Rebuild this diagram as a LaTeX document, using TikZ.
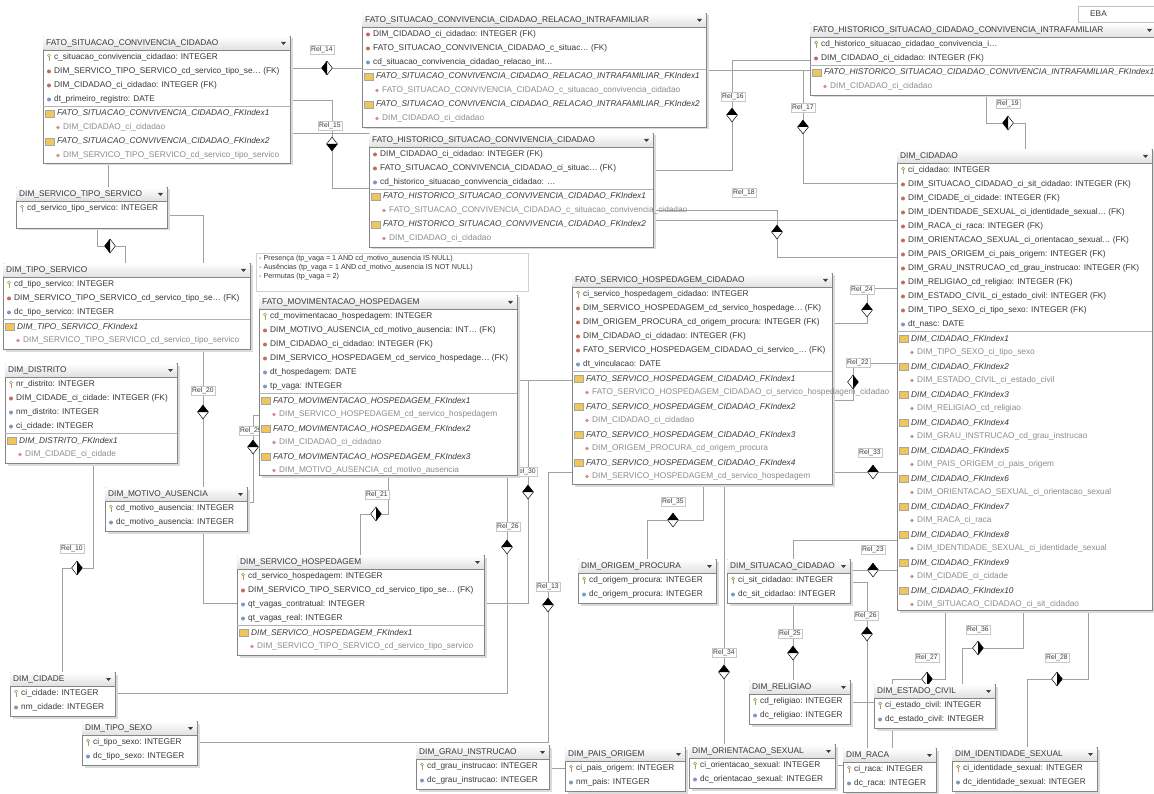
\documentclass[tikz,border=0pt]{standalone}
\usepackage{fontspec}
\setmainfont{Liberation Sans}
\usetikzlibrary{shapes.geometric,backgrounds}
\definecolor{lnc}{HTML}{A0A0A0}
\definecolor{bdr}{HTML}{858585}
\definecolor{txt}{HTML}{383838}
\definecolor{subt}{HTML}{8C8C8C}
\definecolor{fkc}{HTML}{C46A5E}
\definecolor{atc}{HTML}{7C98BC}
\definecolor{keyc}{HTML}{B09A68}
\definecolor{fold}{HTML}{EFC65C}
\newcounter{rowc}
\tikzset{
  tblbox/.style={rectangle, draw=bdr, fill=white, line width=0.6pt, inner sep=0pt, outer sep=0pt},
  hdrtext/.style={anchor=west, inner sep=0pt, font=\fontsize{8.3}{9}\selectfont, text=txt},
  rtk/.style={anchor=west, inner sep=0pt, font=\fontsize{8.3}{9}\selectfont, text=txt},
  rtf/.style={rtk},
  rta/.style={rtk},
  rti/.style={anchor=west, inner sep=0pt, font=\fontsize{8.3}{9}\selectfont\itshape, text=txt},
  rts/.style={anchor=west, inner sep=0pt, font=\fontsize{8.3}{9}\selectfont, text=subt},
  rd/.style={diamond, draw=black, fill=white, line width=0.5pt, minimum width=11pt, minimum height=14pt, inner sep=0pt},
  rdL/.style={rd, path picture={\fill[black] (path picture bounding box.north) -- (path picture bounding box.west) -- (path picture bounding box.south) -- cycle;}},
  rdR/.style={rd, path picture={\fill[black] (path picture bounding box.north) -- (path picture bounding box.east) -- (path picture bounding box.south) -- cycle;}},
  rdT/.style={rd, path picture={\fill[black] (path picture bounding box.west) -- (path picture bounding box.north) -- (path picture bounding box.east) -- cycle;}},
  rdB/.style={rd, path picture={\fill[black] (path picture bounding box.west) -- (path picture bounding box.south) -- (path picture bounding box.east) -- cycle;}},
  rl/.style={draw=black!22, fill=white, inner sep=1.4pt, font=\fontsize{6.8}{7}\selectfont, text=txt},
  rel/.style={draw=lnc, line width=0.6pt},
  note/.style={anchor=north west, inner sep=0pt, align=left, font=\fontsize{7.2}{9.2}\selectfont, text=txt}
}
\newcommand\iconk[2]{\draw[keyc, line width=0.7pt] (#1+6,#2-2) circle (1.5); \draw[keyc, line width=0.8pt] (#1+6,#2-0.5) -- (#1+6,#2+3.2);}
\newcommand\iconf[2]{\fill[fkc] (#1+6,#2) circle (2);}
\newcommand\icona[2]{\fill[atc] (#1+6,#2) circle (2);}
\newcommand\iconi[2]{\fill[fold] (#1+2,#2-3.5) rectangle (#1+11,#2+3.5); \draw[black!35, line width=0.3pt] (#1+2,#2-3.5) rectangle (#1+11,#2+3.5);}
\newcommand\icons[2]{\fill[fkc!75] (#1+15,#2) circle (1.8);}
\def\offk{11}\def\offf{11}\def\offa{11}\def\offi{14}\def\offs{20}
\newcommand\tb[7]{%
  \def\tbn{#1}\def\tbx{#2}\def\tby{#3}\setcounter{rowc}{0}%
  \fill[black!14] (#2+2.5,#3+2.5) rectangle (#2+#4+2.5,#3+#5+2.5);
  \node[tblbox, minimum width=#4pt, minimum height=#5pt] (#1) at (#2+#4/2,#3+#5/2) {};
  \shade[top color=white, bottom color=black!12] (#2+0.4,#3+0.4) rectangle (#2+#4-0.4,#3+14);
  \draw[bdr, line width=0.4pt] (#2,#3+14) -- (#2+#4,#3+14);
  \node[hdrtext] (#1-h) at (#2+3,#3+7.5) {#6};
  \fill[black!75] (#2+#4-9,#3+6) -- (#2+#4-4,#3+6) -- (#2+#4-6.5,#3+9) -- cycle;
  \ifnum#7>0 \draw[black!30, line width=0.4pt] (#2,#3+14*#7+14) -- (#2+#4,#3+14*#7+14);\fi
}
\newcommand\rw[2]{%
  \stepcounter{rowc}%
  \pgfmathsetmacro\ry{\tby+7.5+14*\arabic{rowc}}%
  \csname icon#1\endcsname{\tbx}{\ry}%
  \node[rt#1] (\tbn-\arabic{rowc}) at ({\tbx+\csname off#1\endcsname},\ry) {#2};%
}
\begin{document}
\catcode`\_=12
\begin{tikzpicture}[x=1pt,y=-1pt]
\useasboundingbox (0,0) rectangle (1154,794);
\begin{pgfonlayer}{background}
\fill[white] (0,0) rectangle (1154,794);
\end{pgfonlayer}

% relationship diamonds and labels
\node[rdL] (d14) at (327,68) {};   \node[rl] (l14) at (322,50) {Rel_14};
\node[rdB] (d15) at (332,144) {};  \node[rl] (l15) at (330,126) {Rel_15};
\node[rdT] (d16) at (732,115) {};  \node[rl] (l16) at (733,97) {Rel_16};
\node[rdT] (d17) at (803,127) {};  \node[rl] (l17) at (803,108) {Rel_17};
\node[rdT] (d18) at (777,232) {};  \node[rl] (l18) at (744,193) {Rel_18};
\node[rdL] (d19) at (1008,123) {}; \node[rl] (l19) at (1008,104) {Rel_19};
\node[rdL] (d56) at (110,246) {};
\node[rdT] (d20) at (203,412) {};  \node[rl] (l20) at (203,391) {Rel_20};
\node[rdR] (d10) at (77,568) {};   \node[rl] (l10) at (72,549) {Rel_10};
\node[rdR] (d21) at (376,514) {};  \node[rl] (l21) at (377,495) {Rel_21};
\node[rdT] (d22l) at (253,447) {}; \node[rl] (l22l) at (251,431) {Rel_29};
\node[rdT] (d30l) at (528,492) {}; \node[rl] (l30l) at (525,472) {Rel_30};
\node[rdT] (d26) at (507,547) {};  \node[rl] (l26) at (508,527) {Rel_26};
\node[rdT] (d23l) at (548,605) {}; \node[rl] (l23l) at (548,587) {Rel_13};
\node[rdT] (d35) at (673,520) {};  \node[rl] (l35) at (673,502) {Rel_35};
\node[rdT] (d34) at (724,672) {};  \node[rl] (l34) at (724,653) {Rel_34};
\node[rdT] (d25) at (793,653) {};  \node[rl] (l25) at (790,634) {Rel_25};
\node[rdT] (d24) at (867,310) {};  \node[rl] (l24) at (862,290) {Rel_24};
\node[rdR] (d22r) at (853,382) {}; \node[rl] (l22r) at (858,363) {Rel_22};
\node[rdT] (d30r) at (873,472) {}; \node[rl] (l30r) at (870,453) {Rel_33};
\node[rdT] (d23r) at (873,570) {}; \node[rl] (l23r) at (873,550) {Rel_23};
\node[rdT] (d28l) at (867,634) {}; \node[rl] (l28l) at (866,616) {Rel_26};
\node[rdR] (d16b) at (978,648) {}; \node[rl] (l16b) at (978,630) {Rel_36};
\node[rdR] (d27) at (927,679) {};  \node[rl] (l27) at (927,658) {Rel_27};
\node[rdR] (d28r) at (1057,679) {};\node[rl] (l28r) at (1057,658) {Rel_28};

% note
\node[draw=black!18, fill=white, minimum width=272pt, minimum height=38pt, inner sep=0pt] (notebox) at (392,272) {};
\node[note] (notetext) at (259,255) {- Presença (tp_vaga = 1 AND cd_motivo_ausencia IS NULL)\\- Ausências (tp_vaga = 1 AND cd_motivo_ausencia IS NOT NULL)\\- Permutas (tp_vaga = 2)};

% EBA box
\node[draw=black!25, fill=white, minimum width=80pt, minimum height=16pt, inner sep=0pt] (eba) at (1118,14) {};
\node[rtk] (ebat) at (1090,14) {EBA};

% tables
\tb{t1}{43}{36}{247}{127}{FATO_SITUACAO_CONVIVENCIA_CIDADAO}{4}
\rw{k}{c_situacao_convivencia_cidadao: INTEGER}
\rw{f}{DIM_SERVICO_TIPO_SERVICO_cd_servico_tipo_se… (FK)}
\rw{f}{DIM_CIDADAO_ci_cidadao: INTEGER (FK)}
\rw{a}{dt_primeiro_registro: DATE}
\rw{i}{FATO_SITUACAO_CONVIVENCIA_CIDADAO_FKIndex1}
\rw{s}{DIM_CIDADAO_ci_cidadao}
\rw{i}{FATO_SITUACAO_CONVIVENCIA_CIDADAO_FKIndex2}
\rw{s}{DIM_SERVICO_TIPO_SERVICO_cd_servico_tipo_servico}

\tb{t2}{362}{13}{344}{114}{FATO_SITUACAO_CONVIVENCIA_CIDADAO_RELACAO_INTRAFAMILIAR}{3}
\rw{f}{DIM_CIDADAO_ci_cidadao: INTEGER (FK)}
\rw{f}{FATO_SITUACAO_CONVIVENCIA_CIDADAO_c_situac… (FK)}
\rw{a}{cd_situacao_convivencia_cidadao_relacao_int…}
\rw{i}{FATO_SITUACAO_CONVIVENCIA_CIDADAO_RELACAO_INTRAFAMILIAR_FKIndex1}
\rw{s}{FATO_SITUACAO_CONVIVENCIA_CIDADAO_c_situacao_convivencia_cidadao}
\rw{i}{FATO_SITUACAO_CONVIVENCIA_CIDADAO_RELACAO_INTRAFAMILIAR_FKIndex2}
\rw{s}{DIM_CIDADAO_ci_cidadao}

\tb{t3}{810}{23}{346}{72}{FATO_HISTORICO_SITUACAO_CIDADAO_CONVIVENCIA_INTRAFAMILIAR}{2}
\rw{k}{cd_historico_situacao_cidadao_convivencia_i…}
\rw{f}{DIM_CIDADAO_ci_cidadao: INTEGER (FK)}
\rw{i}{FATO_HISTORICO_SITUACAO_CIDADAO_CONVIVENCIA_INTRAFAMILIAR_FKIndex1}
\rw{s}{DIM_CIDADAO_ci_cidadao}

\tb{t4}{369}{133}{284}{114}{FATO_HISTORICO_SITUACAO_CONVIVENCIA_CIDADAO}{3}
\rw{f}{DIM_CIDADAO_ci_cidadao: INTEGER (FK)}
\rw{f}{FATO_SITUACAO_CONVIVENCIA_CIDADAO_ci_situac… (FK)}
\rw{a}{cd_historico_situacao_convivencia_cidadao: …}
\rw{i}{FATO_HISTORICO_SITUACAO_CONVIVENCIA_CIDADAO_FKIndex1}
\rw{s}{FATO_SITUACAO_CONVIVENCIA_CIDADAO_c_situacao_convivencia_cidadao}
\rw{i}{FATO_HISTORICO_SITUACAO_CONVIVENCIA_CIDADAO_FKIndex2}
\rw{s}{DIM_CIDADAO_ci_cidadao}

\tb{t5}{16}{187}{151}{41}{DIM_SERVICO_TIPO_SERVICO}{0}
\rw{k}{cd_servico_tipo_servico: INTEGER}

\tb{t6}{3}{263}{247}{86}{DIM_TIPO_SERVICO}{3}
\rw{k}{cd_tipo_servico: INTEGER}
\rw{f}{DIM_SERVICO_TIPO_SERVICO_cd_servico_tipo_se… (FK)}
\rw{a}{dc_tipo_servico: INTEGER}
\rw{i}{DIM_TIPO_SERVICO_FKIndex1}
\rw{s}{DIM_SERVICO_TIPO_SERVICO_cd_servico_tipo_servico}

\tb{t7}{5}{363}{172}{100}{DIM_DISTRITO}{4}
\rw{k}{nr_distrito: INTEGER}
\rw{f}{DIM_CIDADE_ci_cidade: INTEGER (FK)}
\rw{a}{nm_distrito: INTEGER}
\rw{a}{ci_cidade: INTEGER}
\rw{i}{DIM_DISTRITO_FKIndex1}
\rw{s}{DIM_CIDADE_ci_cidade}

\tb{t8}{105}{487}{142}{44}{DIM_MOTIVO_AUSENCIA}{0}
\rw{k}{cd_motivo_ausencia: INTEGER}
\rw{a}{dc_motivo_ausencia: INTEGER}

\tb{t9}{259}{295}{258}{180}{FATO_MOVIMENTACAO_HOSPEDAGEM}{6}
\rw{k}{cd_movimentacao_hospedagem: INTEGER}
\rw{f}{DIM_MOTIVO_AUSENCIA_cd_motivo_ausencia: INT… (FK)}
\rw{f}{DIM_CIDADAO_ci_cidadao: INTEGER (FK)}
\rw{f}{DIM_SERVICO_HOSPEDAGEM_cd_servico_hospedage… (FK)}
\rw{a}{dt_hospedagem: DATE}
\rw{a}{tp_vaga: INTEGER}
\rw{i}{FATO_MOVIMENTACAO_HOSPEDAGEM_FKIndex1}
\rw{s}{DIM_SERVICO_HOSPEDAGEM_cd_servico_hospedagem}
\rw{i}{FATO_MOVIMENTACAO_HOSPEDAGEM_FKIndex2}
\rw{s}{DIM_CIDADAO_ci_cidadao}
\rw{i}{FATO_MOVIMENTACAO_HOSPEDAGEM_FKIndex3}
\rw{s}{DIM_MOTIVO_AUSENCIA_cd_motivo_ausencia}

\tb{t10}{572}{273}{260}{211}{FATO_SERVICO_HOSPEDAGEM_CIDADAO}{6}
\rw{k}{ci_servico_hospedagem_cidadao: INTEGER}
\rw{f}{DIM_SERVICO_HOSPEDAGEM_cd_servico_hospedage… (FK)}
\rw{f}{DIM_ORIGEM_PROCURA_cd_origem_procura: INTEGER (FK)}
\rw{f}{DIM_CIDADAO_ci_cidadao: INTEGER (FK)}
\rw{f}{FATO_SERVICO_HOSPEDAGEM_CIDADAO_ci_servico_… (FK)}
\rw{a}{dt_vinculacao: DATE}
\rw{i}{FATO_SERVICO_HOSPEDAGEM_CIDADAO_FKIndex1}
\rw{s}{FATO_SERVICO_HOSPEDAGEM_CIDADAO_ci_servico_hospedagem_cidadao}
\rw{i}{FATO_SERVICO_HOSPEDAGEM_CIDADAO_FKIndex2}
\rw{s}{DIM_CIDADAO_ci_cidadao}
\rw{i}{FATO_SERVICO_HOSPEDAGEM_CIDADAO_FKIndex3}
\rw{s}{DIM_ORIGEM_PROCURA_cd_origem_procura}
\rw{i}{FATO_SERVICO_HOSPEDAGEM_CIDADAO_FKIndex4}
\rw{s}{DIM_SERVICO_HOSPEDAGEM_cd_servico_hospedagem}

\tb{t11}{237}{555}{247}{100}{DIM_SERVICO_HOSPEDAGEM}{4}
\rw{k}{cd_servico_hospedagem: INTEGER}
\rw{f}{DIM_SERVICO_TIPO_SERVICO_cd_servico_tipo_se… (FK)}
\rw{a}{qt_vagas_contratual: INTEGER}
\rw{a}{qt_vagas_real: INTEGER}
\rw{i}{DIM_SERVICO_HOSPEDAGEM_FKIndex1}
\rw{s}{DIM_SERVICO_TIPO_SERVICO_cd_servico_tipo_servico}

\tb{t12}{10}{672}{105}{44}{DIM_CIDADE}{0}
\rw{k}{ci_cidade: INTEGER}
\rw{a}{nm_cidade: INTEGER}

\tb{t13}{82}{721}{115}{44}{DIM_TIPO_SEXO}{0}
\rw{k}{ci_tipo_sexo: INTEGER}
\rw{a}{dc_tipo_sexo: INTEGER}

\tb{t14}{416}{745}{133}{44}{DIM_GRAU_INSTRUCAO}{0}
\rw{k}{cd_grau_instrucao: INTEGER}
\rw{a}{dc_grau_instrucao: INTEGER}

\tb{t15}{565}{747}{120}{44}{DIM_PAIS_ORIGEM}{0}
\rw{k}{ci_pais_origem: INTEGER}
\rw{a}{nm_pais: INTEGER}

\tb{t16}{689}{744}{146}{44}{DIM_ORIENTACAO_SEXUAL}{0}
\rw{k}{ci_orientacao_sexual: INTEGER}
\rw{a}{dc_orientacao_sexual: INTEGER}

\tb{t17}{578}{559}{138}{44}{DIM_ORIGEM_PROCURA}{0}
\rw{k}{cd_origem_procura: INTEGER}
\rw{a}{dc_origem_procura: INTEGER}

\tb{t18}{727}{559}{123}{44}{DIM_SITUACAO_CIDADAO}{0}
\rw{k}{ci_sit_cidadao: INTEGER}
\rw{a}{dc_sit_cidadao: INTEGER}

\tb{t19}{749}{680}{101}{44}{DIM_RELIGIAO}{0}
\rw{k}{cd_religiao: INTEGER}
\rw{a}{dc_religiao: INTEGER}

\tb{t20}{874}{684}{121}{44}{DIM_ESTADO_CIVIL}{0}
\rw{k}{ci_estado_civil: INTEGER}
\rw{a}{dc_estado_civil: INTEGER}

\tb{t21}{843}{748}{93}{44}{DIM_RACA}{0}
\rw{k}{ci_raca: INTEGER}
\rw{a}{dc_raca: INTEGER}

\tb{t22}{952}{747}{145}{44}{DIM_IDENTIDADE_SEXUAL}{0}
\rw{k}{ci_identidade_sexual: INTEGER}
\rw{a}{dc_identidade_sexual: INTEGER}

\tb{dimc}{897}{149}{255}{461}{DIM_CIDADAO}{12}
\rw{k}{ci_cidadao: INTEGER}
\rw{f}{DIM_SITUACAO_CIDADAO_ci_sit_cidadao: INTEGER (FK)}
\rw{f}{DIM_CIDADE_ci_cidade: INTEGER (FK)}
\rw{f}{DIM_IDENTIDADE_SEXUAL_ci_identidade_sexual… (FK)}
\rw{f}{DIM_RACA_ci_raca: INTEGER (FK)}
\rw{f}{DIM_ORIENTACAO_SEXUAL_ci_orientacao_sexual… (FK)}
\rw{f}{DIM_PAIS_ORIGEM_ci_pais_origem: INTEGER (FK)}
\rw{f}{DIM_GRAU_INSTRUCAO_cd_grau_instrucao: INTEGER (FK)}
\rw{f}{DIM_RELIGIAO_cd_religiao: INTEGER (FK)}
\rw{f}{DIM_ESTADO_CIVIL_ci_estado_civil: INTEGER (FK)}
\rw{f}{DIM_TIPO_SEXO_ci_tipo_sexo: INTEGER (FK)}
\rw{a}{dt_nasc: DATE}
\rw{i}{DIM_CIDADAO_FKIndex1}
\rw{s}{DIM_TIPO_SEXO_ci_tipo_sexo}
\rw{i}{DIM_CIDADAO_FKIndex2}
\rw{s}{DIM_ESTADO_CIVIL_ci_estado_civil}
\rw{i}{DIM_CIDADAO_FKIndex3}
\rw{s}{DIM_RELIGIAO_cd_religiao}
\rw{i}{DIM_CIDADAO_FKIndex4}
\rw{s}{DIM_GRAU_INSTRUCAO_cd_grau_instrucao}
\rw{i}{DIM_CIDADAO_FKIndex5}
\rw{s}{DIM_PAIS_ORIGEM_ci_pais_origem}
\rw{i}{DIM_CIDADAO_FKIndex6}
\rw{s}{DIM_ORIENTACAO_SEXUAL_ci_orientacao_sexual}
\rw{i}{DIM_CIDADAO_FKIndex7}
\rw{s}{DIM_RACA_ci_raca}
\rw{i}{DIM_CIDADAO_FKIndex8}
\rw{s}{DIM_IDENTIDADE_SEXUAL_ci_identidade_sexual}
\rw{i}{DIM_CIDADAO_FKIndex9}
\rw{s}{DIM_CIDADE_ci_cidade}
\rw{i}{DIM_CIDADAO_FKIndex10}
\rw{s}{DIM_SITUACAO_CIDADAO_ci_sit_cidadao}

% bend points
\coordinate (c15a) at (332,100); \coordinate (c15b) at (332,188);
\coordinate (c16a) at (732,60);  \coordinate (c16b) at (732,170);
\coordinate (c17a) at (803,70);  \coordinate (c17b) at (803,183);
\coordinate (c18a) at (777,210); \coordinate (c18b) at (777,257);
\coordinate (c220) at (780,220);
\coordinate (c19a) at (986,123); \coordinate (c19b) at (1025,123);
\coordinate (c108) at (108,175);
\coordinate (c56a) at (97,246);  \coordinate (c56b) at (125,246);
\coordinate (c20a) at (203,215); \coordinate (c20b) at (203,603);
\coordinate (c10a) at (93,568);  \coordinate (c10b) at (62,568);
\coordinate (c21a) at (388,514); \coordinate (c21b) at (360,514);
\coordinate (c22a) at (253,415); \coordinate (c22b) at (253,502);
\coordinate (c30a) at (528,603); \coordinate (c30b) at (528,380);
\coordinate (c26) at (507,693);
\coordinate (c23a) at (548,742); \coordinate (c23b) at (548,472);
\coordinate (c768) at (557,768);
\coordinate (c35a) at (703,520); \coordinate (c35b) at (647,520);
\coordinate (c25) at (793,540);
\coordinate (c24a) at (867,288); \coordinate (c24b) at (867,323);
\coordinate (c22ra) at (853,363); \coordinate (c22rb) at (853,400);
\coordinate (c28a) at (867,582);
\coordinate (c16ba) at (1023,648); \coordinate (c16bb) at (962,648);
\coordinate (c27a) at (945,679); \coordinate (c27b) at (892,679);
\coordinate (c28ra) at (1088,679); \coordinate (c28rb) at (1027,679);
\coordinate (c702) at (860,702);
\coordinate (c765) at (840,765);

\begin{pgfonlayer}{background}
\draw[rel] (t1.east |- d14) -- (d14) -- (t2.west |- d14);
\draw[rel] (t1.east |- c15a) -- (c15a) -- (d15) -- (c15b) -- (t4.west |- c15b);
\draw[rel] (t1.east |- t4.north west) -- (t4.north west);
\draw[rel] (t3.west |- c16a) -- (c16a) -- (d16) -- (c16b) -- (t4.east |- c16b);
\draw[rel] (t2.east |- c17a) -- (c17a) -- (d17) -- (c17b) -- (dimc.west |- c17b);
\draw[rel] (c17a) -- (t3.west |- c17a);
\draw[rel] (t4.east |- c18a) -- (c18a) -- (d18) -- (c18b) -- (dimc.west |- c18b);
\draw[rel] (t4.east |- c220) -- (dimc.west |- c220);
\draw[rel] (t3.south -| c19a) -- (c19a) -- (d19) -- (c19b) -- (dimc.north -| c19b);
\draw[rel] (t1.south -| c108) -- (t5.north -| c108);
\draw[rel] (t5.south -| c56a) -- (c56a) -- (d56) -- (c56b) -- (t6.north -| c56b);
\draw[rel] (t5.east |- c20a) -- (c20a) -- (d20) -- (c20b) -- (t11.west |- c20b);
\draw[rel] (t7.south -| c10a) -- (c10a) -- (d10) -- (c10b) -- (t12.north -| c10b);
\draw[rel] (t9.south -| c21a) -- (c21a) -- (d21) -- (c21b) -- (t11.north -| c21b);
\draw[rel] (t9.west |- c22a) -- (c22a) -- (d22l) -- (c22b) -- (t8.east |- c22b);
\draw[rel] (t11.east |- c30a) -- (c30a) -- (d30l) -- (c30b) -- (t10.west |- c30b);
\draw[rel] (t9.east |- c30b) -- (c30b);
\draw[rel] (t9.south -| d26) -- (d26) -- (c26) -- (t12.east |- c26);
\draw[rel] (t13.east |- c23a) -- (c23a) -- (d23l) -- (c23b) -- (t10.west |- c23b);
\draw[rel] (t14.east |- c768) -- (t15.west |- c768);
\draw[rel] (t10.south -| c35a) -- (c35a) -- (d35) -- (c35b) -- (t17.north -| c35b);
\draw[rel] (t10.south -| d34) -- (d34) -- (t16.north -| d34);
\draw[rel] (dimc.west |- c25) -- (c25) -- (t18.north -| c25);
\draw[rel] (t18.south -| d25) -- (d25) -- (t19.north -| d25);
\draw[rel] (dimc.west |- c24a) -- (c24a) -- (d24) -- (c24b) -- (t10.east |- c24b);
\draw[rel] (dimc.west |- c22ra) -- (c22ra) -- (d22r) -- (c22rb) -- (t10.east |- c22rb);
\draw[rel] (t10.east |- d30r) -- (d30r) -- (dimc.west |- d30r);
\draw[rel] (t18.east |- d23r) -- (d23r) -- (dimc.west |- d23r);
\draw[rel] (t18.east |- c28a) -- (c28a) -- (d28l) -- (t21.north -| d28l);
\draw[rel] (dimc.south -| c16ba) -- (c16ba) -- (d16b) -- (c16bb) -- (t20.north -| c16bb);
\draw[rel] (dimc.south -| c27a) -- (c27a) -- (d27) -- (c27b) -- (t21.north -| c27b);
\draw[rel] (dimc.south -| c28ra) -- (c28ra) -- (d28r) -- (c28rb) -- (t22.north -| c28rb);
\draw[rel] (t19.east |- c702) -- (t20.west |- c702);
\draw[rel] (t16.east |- c765) -- (t21.west |- c765);
\end{pgfonlayer}
\end{tikzpicture}
\end{document}
